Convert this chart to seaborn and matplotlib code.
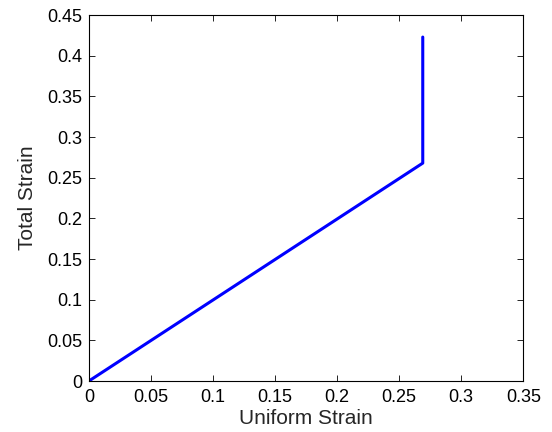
import pandas as pd
import matplotlib.pyplot as plt
import seaborn as sns

uniform_strain = [0.0, 0.269, 0.269]
total_strain = [0.0, 0.268, 0.423]

df = pd.DataFrame({"Uniform Strain": uniform_strain, "Total Strain": total_strain})

sns.set_style("ticks")
plt.rcParams["font.family"] = ["Liberation Sans", "DejaVu Sans"]

fig = plt.figure(figsize=(5.52, 4.32), dpi=100)
ax = fig.add_axes([0.161, 0.118, 0.787, 0.847])
sns.lineplot(data=df, x="Uniform Strain", y="Total Strain", sort=False,
             estimator=None, color="#0000ff", linewidth=2.2, ax=ax)

ax.set_xlim(0, 0.35)
ax.set_ylim(0, 0.45)
ax.set_xticks([0, 0.05, 0.1, 0.15, 0.2, 0.25, 0.3, 0.35])
ax.set_xticklabels(["0", "0.05", "0.1", "0.15", "0.2", "0.25", "0.3", "0.35"])
ax.set_yticks([0, 0.05, 0.1, 0.15, 0.2, 0.25, 0.3, 0.35, 0.4, 0.45])
ax.set_yticklabels(["0", "0.05", "0.1", "0.15", "0.2", "0.25", "0.3", "0.35", "0.4", "0.45"])
ax.tick_params(direction="in", top=True, right=True, length=4, width=0.6,
               labelsize=13, colors="black")
ax.tick_params(axis="x", pad=6)
ax.tick_params(axis="y", pad=5)
for s in ax.spines.values():
    s.set_visible(True)
    s.set_linewidth(0.8)
    s.set_color("black")
ax.set_xlabel("Uniform Strain", fontsize=15, labelpad=2)
ax.set_ylabel("Total Strain", fontsize=15, labelpad=7)

fig.savefig("out.png", dpi=100)
